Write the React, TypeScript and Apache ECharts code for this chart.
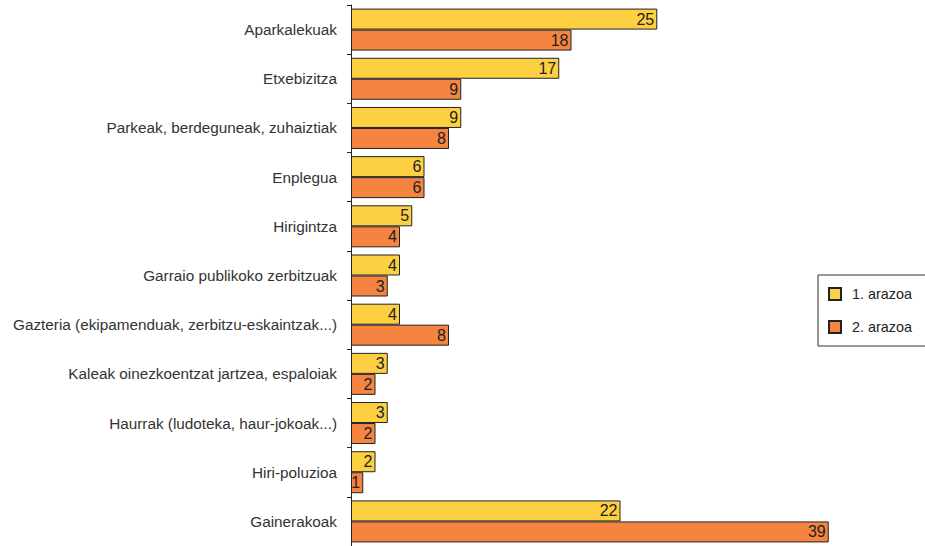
import React, { useEffect, useRef } from "react";
import * as echarts from "echarts";

const categories = [
  "Aparkalekuak",
  "Etxebizitza",
  "Parkeak, berdeguneak, zuhaiztiak",
  "Enplegua",
  "Hirigintza",
  "Garraio publikoko zerbitzuak",
  "Gazteria (ekipamenduak, zerbitzu-eskaintzak...)",
  "Kaleak oinezkoentzat jartzea, espaloiak",
  "Haurrak (ludoteka, haur-jokoak...)",
  "Hiri-poluzioa",
  "Gainerakoak",
];
const firstIssue = [25, 17, 9, 6, 5, 4, 4, 3, 3, 2, 22];
const secondIssue = [18, 9, 8, 6, 4, 3, 8, 2, 2, 1, 39];
const seriesNames = ["1. arazoa", "2. arazoa"];

export default function App() {
  const ref = useRef<HTMLDivElement>(null);
  useEffect(() => {
    if (!ref.current) return;
    const chart = echarts.init(ref.current, undefined, { renderer: "svg" });
    const font = "'Liberation Sans', Arial, sans-serif";
    const label = {
      show: true,
      position: "insideRight" as const,
      distance: 3,
      color: "#222",
      fontSize: 16,
      fontFamily: font,
    };
    chart.setOption({
      animation: false,
      grid: { left: 351, right: 84, top: 5, bottom: 0, containLabel: false },
      legend: {
        orient: "vertical",
        left: 818,
        top: 275,
        icon: "rect",
        itemWidth: 12,
        itemHeight: 12,
        itemGap: 19,
        padding: [12, 14, 12, 10],
        borderColor: "#333",
        borderWidth: 1,
        textStyle: { fontSize: 14.4, color: "#222", fontFamily: font, padding: [0, 0, 0, 6] },
        data: seriesNames,
      },
      xAxis: {
        type: "value",
        min: 0,
        max: 40,
        show: false,
      },
      yAxis: {
        type: "category",
        inverse: true,
        data: categories,
        axisLine: { show: true, lineStyle: { color: "#222", width: 1 } },
        axisTick: { show: true, length: 4, lineStyle: { color: "#222" } },
        axisLabel: {
          color: "#333",
          fontSize: 15.3,
          fontFamily: font,
          margin: 14,
          padding: [6, 0, 0, 0],
        },
        splitLine: { show: false },
      },
      series: [
        {
          name: seriesNames[0],
          type: "bar",
          data: firstIssue,
          barWidth: 21,
          barGap: "0%",
          itemStyle: { color: "#FDD042", borderColor: "#222", borderWidth: 1 },
          label,
        },
        {
          name: seriesNames[1],
          type: "bar",
          data: secondIssue,
          barWidth: 21,
          barGap: "0%",
          itemStyle: { color: "#F4843F", borderColor: "#222", borderWidth: 1 },
          label,
        },
      ],
    });
    return () => chart.dispose();
  }, []);
  return (
    <div
      ref={ref}
      style={{ position: "absolute", left: 0, top: 0, width: 925, height: 546 }}
    />
  );
}
